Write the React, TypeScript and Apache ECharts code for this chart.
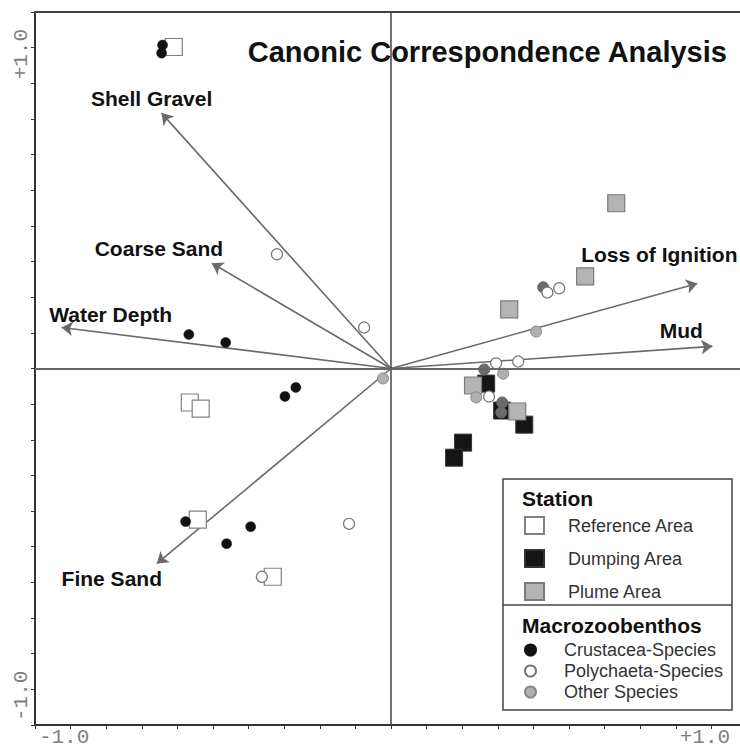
import React, { useEffect, useRef } from "react";
import * as echarts from "echarts";

// ---- data (CCA scores) ----
const referenceArea = [
  [-0.678, 1.002],
  [-0.628, -0.106],
  [-0.594, -0.125],
  [-0.603, -0.471],
  [-0.369, -0.649],
];
const dumpingArea = [
  [0.297, -0.047],
  [0.347, -0.131],
  [0.416, -0.175],
  [0.225, -0.231],
  [0.197, -0.278],
];
const plumeArea = [
  [0.703, 0.515],
  [0.606, 0.287],
  [0.369, 0.184],
  [0.256, -0.053],
  [0.394, -0.134],
];
const crustacea = [
  [-0.713, 1.008],
  [-0.716, 0.983],
  [-0.631, 0.106],
  [-0.516, 0.081],
  [-0.297, -0.059],
  [-0.331, -0.087],
  [-0.641, -0.477],
  [-0.438, -0.493],
  [-0.513, -0.546],
];
const crustaceaOverlapped = [
  [0.475, 0.253],
  [0.291, -0.003],
  [0.347, -0.106],
  [0.344, -0.137],
];
const polychaeta = [
  [-0.356, 0.356],
  [-0.084, 0.128],
  [-0.131, -0.484],
  [-0.403, -0.649],
  [0.488, 0.237],
  [0.525, 0.25],
  [0.328, 0.016],
  [0.397, 0.022],
  [0.306, -0.087],
];
const otherSpecies = [
  [-0.025, -0.031],
  [0.453, 0.115],
  [0.35, -0.016],
  [0.266, -0.09],
];
const envVariables = ["Shell Gravel", "Coarse Sand", "Water Depth", "Fine Sand", "Loss of Ignition", "Mud"];
const envScores = [
  [-0.716, 0.796],
  [-0.559, 0.328],
  [-1.028, 0.128],
  [-0.731, -0.608],
  [0.956, 0.265],
  [1.003, 0.069],
];
const tickLabelValues = [-1, 1];
const tickLabelTexts = ["-1.0", "+1.0"];

// ---- layout (pixel offsets of the variable labels from the arrow tips) ----
const envLabelOffsets = [
  [-10, -15],
  [-53, -15],
  [49, -13],
  [-45, 15],
  [-38, -29],
  [-31, -16],
];

const SANS = "'Liberation Sans', Arial, Helvetica, sans-serif";
const MONO = "'Liberation Mono', 'Courier New', monospace";

const tickFormatter = (v: number) => {
  for (let i = 0; i < tickLabelValues.length; i++) {
    if (Math.abs(v - tickLabelValues[i]) < 1e-6) return tickLabelTexts[i];
  }
  return "";
};

const axisCommon = {
  type: "value",
  min: -10 / 9,
  max: 10 / 9,
  interval: 1 / 9,
  splitLine: { show: false },
  axisLine: { show: true, onZero: false, lineStyle: { color: "#333", width: 2 } },
  axisTick: { show: true, inside: false, length: 4, lineStyle: { color: "#333", width: 1 } },
};

export default function App() {
  const ref = useRef<HTMLDivElement>(null);
  useEffect(() => {
    if (!ref.current) return;
    const chart = echarts.init(ref.current, null, { renderer: "svg" });
    const option: any = {
      animation: false,
      backgroundColor: "#fff",
      title: {
        text: "Canonic Correspondence Analysis",
        right: 20,
        top: 37,
        padding: 0,
        textStyle: { fontSize: 29, fontWeight: "bold", fontFamily: SANS, color: "#111" },
      },
      grid: {
        left: 35,
        right: 1,
        top: 12,
        bottom: 24,
        outerBoundsMode: "none",
        containLabel: false,
        show: false,
      },
      xAxis: [
        {
          ...axisCommon,
          position: "bottom",
          axisLabel: {
            show: true,
            interval: 0,
            formatter: tickFormatter,
            fontFamily: MONO,
            fontSize: 21,
            lineHeight: 19,
            color: "#808080",
            margin: 3,
            padding: [0, 13, 0, 0],
          },
        },
        {
          type: "value",
          position: "top",
          min: -10 / 9,
          max: 10 / 9,
          interval: 1 / 9,
          splitLine: { show: false },
          axisTick: { show: false },
          axisLabel: { show: false },
          axisLine: { show: true, onZero: false, lineStyle: { color: "#444", width: 2 } },
        },
      ],
      yAxis: {
        ...axisCommon,
        axisLabel: {
          show: true,
          interval: 0,
          rotate: 90,
          formatter: tickFormatter,
          fontFamily: MONO,
          fontSize: 21,
          lineHeight: 19,
          color: "#808080",
          margin: 4,
          padding: [0, 13, 0, 0],
        },
      },
      legend: [
        {
          data: ["Reference Area", "Dumping Area", "Plume Area"],
          orient: "vertical",
          left: 524,
          top: 516,
          padding: 0,
          itemWidth: 19,
          itemHeight: 17,
          itemGap: 14,
          selectedMode: false,
          z: 10,
          textStyle: { fontSize: 18, fontFamily: SANS, color: "#333", lineHeight: 18, padding: [0, 0, 0, 19] },
        },
        {
          data: ["Crustacea-Species", "Polychaeta-Species", "Other Species"],
          orient: "vertical",
          left: 524,
          top: 641,
          padding: 0,
          itemWidth: 19,
          itemHeight: 11,
          itemGap: 3,
          selectedMode: false,
          z: 10,
          textStyle: { fontSize: 18, fontFamily: SANS, color: "#333", lineHeight: 18, padding: [0, 0, 0, 19] },
        },
      ],
      graphic: [
        {
          type: "rect",
          z: 5,
          shape: { x: 503, y: 479, width: 229, height: 231 },
          style: { fill: "#fff", stroke: "#444", lineWidth: 1.5 },
        },
        {
          type: "line",
          z: 6,
          shape: { x1: 503, y1: 605, x2: 732, y2: 605 },
          style: { stroke: "#444", lineWidth: 1.5 },
        },
        {
          type: "text",
          z: 10,
          x: 522,
          y: 498,
          style: { text: "Station", font: `bold 21px ${SANS}`, fill: "#111", verticalAlign: "middle" },
        },
        {
          type: "text",
          z: 10,
          x: 522,
          y: 625,
          style: { text: "Macrozoobenthos", font: `bold 21px ${SANS}`, fill: "#111", verticalAlign: "middle" },
        },
      ],
      series: [
        {
          type: "lines",
          name: "axes0",
          coordinateSystem: "cartesian2d",
          silent: true,
          data: envScores.map((p) => ({ coords: [[0, 0], p] })),
          symbol: ["none", "arrow"],
          symbolSize: 11,
          lineStyle: { color: "#6a6a6a", width: 1.6, opacity: 1, curveness: 0 },
          markLine: {
            silent: true,
            symbol: "none",
            label: { show: false },
            data: [
              { xAxis: 0, lineStyle: { color: "#444", width: 1.5, type: "solid" } },
              { yAxis: 0, lineStyle: { color: "#666", width: 2, type: "solid" } },
            ],
          },
        },
        {
          type: "scatter",
          name: "Environmental variables",
          silent: true,
          symbolSize: 1,
          itemStyle: { color: "rgba(0,0,0,0)", opacity: 1 },
          data: envScores.map((p, i) => ({
            name: envVariables[i],
            value: p,
            label: { offset: envLabelOffsets[i] },
          })),
          label: {
            show: true,
            position: "inside",
            formatter: "{b}",
            fontSize: 21,
            fontWeight: "bold",
            fontFamily: SANS,
            color: "#111",
          },
        },
        {
          type: "scatter",
          name: "Reference Area",
          symbol: "rect",
          symbolSize: 17,
          data: referenceArea,
          itemStyle: { color: "#fff", borderColor: "#808080", borderWidth: 1.2, opacity: 1 },
        },
        {
          type: "scatter",
          name: "Dumping Area",
          symbol: "rect",
          symbolSize: 17,
          data: dumpingArea,
          itemStyle: { color: "#151515", borderColor: "#333", borderWidth: 1, opacity: 1 },
        },
        {
          type: "scatter",
          name: "Plume Area",
          symbol: "rect",
          symbolSize: 17,
          data: plumeArea,
          itemStyle: { color: "#b4b4b4", borderColor: "#7a7a7a", borderWidth: 1.2, opacity: 1 },
        },
        {
          type: "scatter",
          name: "Crustacea-Species",
          symbol: "circle",
          symbolSize: 10,
          data: crustacea,
          itemStyle: { color: "#111", borderColor: "#111", borderWidth: 0.5, opacity: 1 },
        },
        {
          type: "scatter",
          name: "Crustacea-Species (overlapped)",
          symbol: "circle",
          symbolSize: 11,
          data: crustaceaOverlapped,
          itemStyle: { color: "#6b6b6b", borderColor: "#666", borderWidth: 1, opacity: 1 },
        },
        {
          type: "scatter",
          name: "Other Species",
          symbol: "circle",
          symbolSize: 11,
          data: otherSpecies,
          itemStyle: { color: "#b0b0b0", borderColor: "#888", borderWidth: 1, opacity: 1 },
        },
        {
          type: "scatter",
          name: "Polychaeta-Species",
          symbol: "circle",
          symbolSize: 11,
          data: polychaeta,
          itemStyle: { color: "#fff", borderColor: "#777", borderWidth: 1.2, opacity: 1 },
        },
      ],
    };
    chart.setOption(option);
    return () => chart.dispose();
  }, []);
  return (
    <div
      style={{ position: "fixed", left: 0, top: 0, width: 740, height: 749, overflow: "hidden", background: "#fff" }}
    >
      <div ref={ref} style={{ width: 748, height: 749 }} />
    </div>
  );
}
